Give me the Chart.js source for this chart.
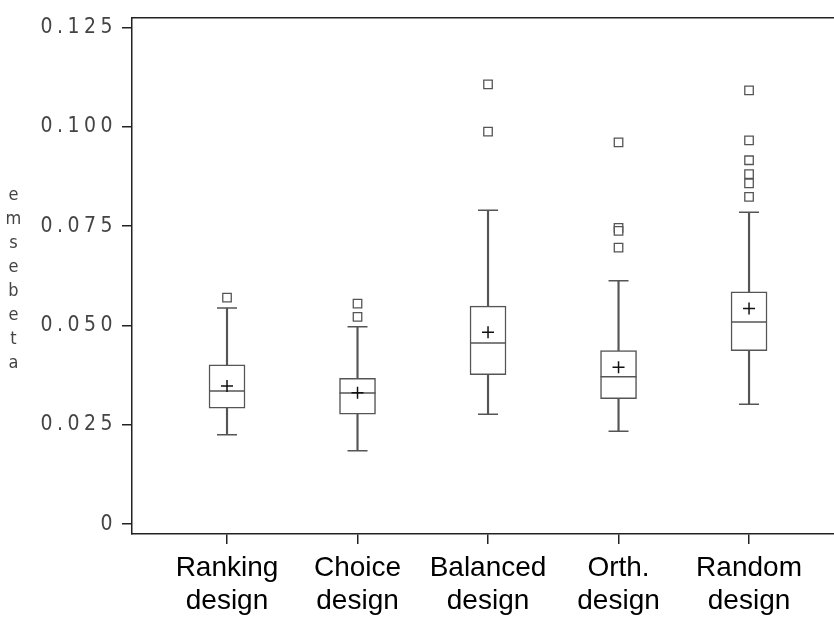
<!DOCTYPE html>
<html>
<head>
<meta charset="utf-8">
<script src="https://cdn.jsdelivr.net/npm/chart.js@4"></script>
<style>
  html, body { margin: 0; padding: 0; background: #fff; }
  #wrap { position: relative; width: 834px; height: 618px; }
  #ytitle {
    position: absolute; left: 0; top: 183px; line-height: 26px;
    writing-mode: vertical-lr; text-orientation: upright;
    font-family: "Liberation Sans Narrow", "DejaVu Sans Condensed", sans-serif;
    font-size: 18px; letter-spacing: 3px; color: #444;
  }
</style>
</head>
<body>
<div id="wrap">
  <canvas id="boxChart" width="834" height="618"></canvas>
  <div id="ytitle">emsebeta</div>
</div>
<script>
// categories (two-line labels) and box plot statistics
const categories = [["Ranking", "design"], ["Choice", "design"], ["Balanced", "design"], ["Orth.", "design"], ["Random", "design"]];
const whiskerLow  = [0.0225, 0.0185, 0.0277, 0.0234, 0.0302];
const q1          = [0.0292, 0.0277, 0.0376, 0.0316, 0.0437];
const median      = [0.0335, 0.0330, 0.0456, 0.0371, 0.0509];
const q3          = [0.0401, 0.0367, 0.0549, 0.0437, 0.0585];
const whiskerHigh = [0.0544, 0.0497, 0.0790, 0.0613, 0.0785];
const means       = [0.0348, 0.0331, 0.0483, 0.0395, 0.0543];
const outliers = [
  [0.0570],
  [0.0555, 0.0522],
  [0.1107, 0.0988],
  [0.0961, 0.0746, 0.0738, 0.0696],
  [0.1092, 0.0966, 0.0916, 0.0881, 0.0858, 0.0824]
];
const yTicks = [0, 0.025, 0.05, 0.075, 0.1, 0.125];

const line = '#555';
const axis = '#222';
const tickFont = { family: '"Liberation Sans Narrow", "DejaVu Sans Condensed", sans-serif', size: 21 };

const pos = i => i + 1;
const pts = arr => arr.map((v, i) => ({ x: pos(i), y: v }));

// wide-spaced y tick labels like the original
const spacedTicks = {
  id: 'spacedTicks',
  beforeDraw(chart) {
    const s = chart.scales.y;
    if (s._spaced) return;
    const orig = s.drawLabels;
    s.drawLabels = function (area) {
      this.ctx.letterSpacing = '4.5px';
      orig.call(this, area);
      this.ctx.letterSpacing = '0px';
    };
    s._spaced = true;
  }
};

new Chart(document.getElementById('boxChart'), {
  type: 'bar',
  data: {
    datasets: [
      {
        label: 'whisker',
        data: categories.map((c, i) => ({ x: pos(i), y: [whiskerLow[i], whiskerHigh[i]] })),
        backgroundColor: line, borderWidth: 0, barThickness: 1.5, grouped: false, order: 5
      },
      {
        label: 'box',
        data: categories.map((c, i) => ({ x: pos(i), y: [q1[i], q3[i]] })),
        backgroundColor: '#fff', borderColor: line, borderWidth: 1.5, borderSkipped: false,
        barThickness: 36, grouped: false, order: 4
      },
      {
        type: 'scatter', label: 'caps',
        data: pts(whiskerLow).concat(pts(whiskerHigh)),
        pointStyle: 'line', radius: 10, borderColor: line, borderWidth: 1.5, order: 3
      },
      {
        type: 'scatter', label: 'median',
        data: pts(median),
        pointStyle: 'line', radius: 18, borderColor: line, borderWidth: 1.5, order: 2
      },
      {
        type: 'scatter', label: 'outliers',
        data: outliers.flatMap((o, i) => o.map(v => ({ x: pos(i), y: v }))),
        pointStyle: 'rect', radius: 6, borderColor: line, backgroundColor: '#fff', borderWidth: 1.3, order: 2
      },
      {
        type: 'scatter', label: 'mean',
        data: pts(means),
        pointStyle: 'cross', radius: 6, borderColor: '#111', borderWidth: 1.5, order: 1
      }
    ]
  },
  options: {
    responsive: false,
    animation: false,
    events: [],
    layout: { autoPadding: false, padding: { top: 8, left: 0, right: 0, bottom: 0 } },
    plugins: { legend: { display: false }, tooltip: { enabled: false } },
    scales: {
      x: {
        type: 'linear', min: 0.272, max: 5.651, offset: false,
        afterBuildTicks: s => { s.ticks = categories.map((c, i) => ({ value: pos(i) })); },
        afterFit: s => { s.height = 84; },
        ticks: {
          callback: (v, i) => categories[i],
          font: { family: '"Liberation Sans", Arial, sans-serif', size: 28, lineHeight: 1.2 },
          color: '#000', padding: 7, maxRotation: 0, autoSkip: false
        },
        grid: { offset: false, drawOnChartArea: false, tickLength: 10, color: axis, lineWidth: 1.5 },
        border: { color: axis, width: 1.5 }
      },
      x2: {
        type: 'linear', position: 'top', min: 0, max: 1, offset: false,
        afterFit: s => { s.height = 0; },
        ticks: { display: false },
        grid: { drawOnChartArea: false, drawTicks: false },
        border: { display: true, color: axis, width: 1.5 }
      },
      y: {
        min: -0.00247, max: 0.1275,
        afterBuildTicks: s => { s.ticks = yTicks.map(v => ({ value: v })); },
        afterFit: s => { s.width = 132; },
        ticks: {
          callback: v => (v === 0 ? '0' : v.toFixed(3)),
          font: tickFont, color: '#444', padding: 5
        },
        grid: { drawOnChartArea: false, tickLength: 10, color: axis, lineWidth: 1.5 },
        border: { color: axis, width: 1.5 }
      }
    }
  },
  plugins: [spacedTicks]
});
</script>
</body>
</html>
